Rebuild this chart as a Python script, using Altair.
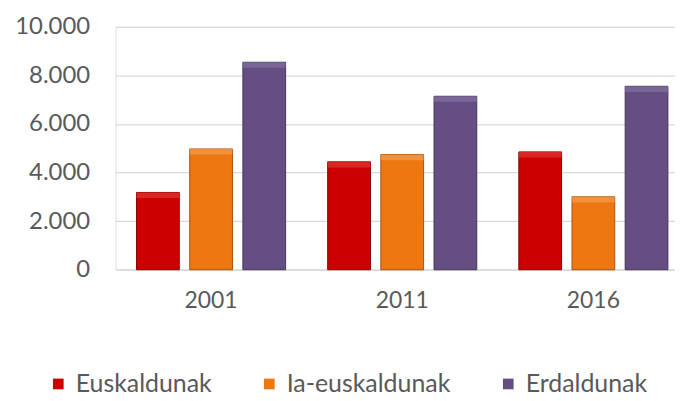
import altair as alt
import pandas as pd

years = ["2001", "2011", "2016"]
groups = ["Euskaldunak", "Ia-euskaldunak", "Erdaldunak"]
euskaldunak = [3180, 4440, 4850]
ia_euskaldunak = [4970, 4740, 3000]
erdaldunak = [8540, 7140, 7550]
colors = ["#CC0000", "#EE7711", "#644E82"]
strokes = ["#8A0000", "#A8520A", "#45365A"]
highlights = ["#E53A3A", "#F5A052", "#8672A3"]

rows = []
for i, y in enumerate(years):
    for g, vals in zip(groups, [euskaldunak, ia_euskaldunak, erdaldunak]):
        rows.append({"year": y, "group": g, "value": vals[i]})
df = pd.DataFrame(rows)

FONT = "Lato"
GREY = "#595959"

x_enc = alt.X("year:N", sort=years, title=None,
              scale=alt.Scale(range=[0, 576], paddingInner=0.22, paddingOuter=0.11),
              axis=alt.Axis(labelAngle=0, labelFont=FONT, labelFontSize=23, labelColor=GREY,
                            ticks=False, domainColor="#d9d9d9", domainWidth=1.5,
                            labelPadding=20, grid=False))
xo_enc = alt.XOffset("group:N", sort=groups,
                     scale=alt.Scale(paddingInner=0.196, paddingOuter=0))
y_scale = alt.Scale(domain=[0, 10000])

base = alt.Chart(df)

bars = base.mark_bar(strokeWidth=1).encode(
    x=x_enc,
    xOffset=xo_enc,
    y=alt.Y("value:Q", title=None, scale=y_scale,
            axis=alt.Axis(values=[0, 2000, 4000, 6000, 8000, 10000],
                          labelExpr="replace(format(datum.value, ','), ',', '.')",
                          labelFont=FONT, labelFontSize=24, labelColor=GREY,
                          ticks=False, domain=False, labelPadding=26,
                          gridColor="#d9d9d9", gridWidth=1.2)),
    color=alt.Color("group:N", sort=groups, title=None,
                    scale=alt.Scale(domain=groups, range=colors),
                    legend=alt.Legend(orient="none", legendX=-70, legendY=346,
                                      direction="horizontal", symbolType="square",
                                      symbolSize=115, symbolStrokeWidth=0,
                                      labelFont=FONT, labelFontSize=25, labelColor=GREY,
                                      labelLimit=400,
                                      columnPadding=45, labelOffset=5)),
    stroke=alt.Stroke("group:N", sort=groups, scale=alt.Scale(domain=groups, range=strokes),
                      legend=None),
)

bevel = base.transform_calculate(
    top2="datum.value - 230"
).mark_bar(strokeWidth=0).encode(
    x=x_enc,
    xOffset=xo_enc,
    y=alt.Y("value:Q", scale=y_scale),
    y2="top2:Q",
    color=alt.Color("group:N", sort=groups, scale=alt.Scale(domain=groups, range=highlights),
                    legend=None),
    opacity=alt.value(0.65),
)

chart = alt.layer(bars, bevel).resolve_scale(color="independent").properties(
    width=562, height=244,
    padding={"left": 108, "top": 18, "right": 0, "bottom": 130},
    autosize=alt.AutoSizeParams(type="none"),
).configure_view(stroke=None).configure(background="white")

chart.save("out.html", embed_options={"renderer": "svg", "actions": False})
